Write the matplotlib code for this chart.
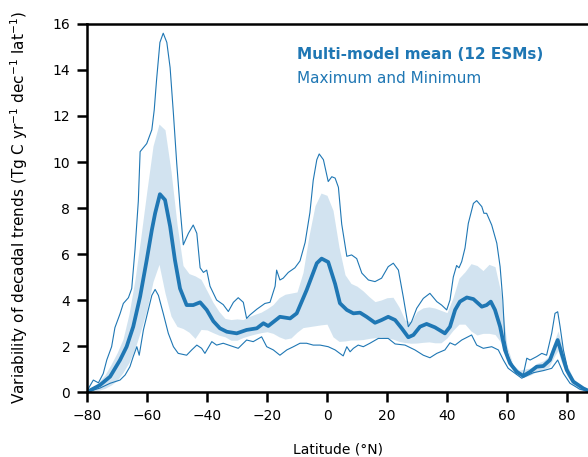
import matplotlib.pyplot as plt

# latitude (deg N) and values
max_lat = [-80, -77.9, -76.2, -74.6, -73.4, -71.8, -70.7, -69, -67.9, -66.2, -65.1, -64, -62.9,
           -62.3, -60.1, -58.4, -57.6, -56.8, -55.7, -54.6, -53.4, -52.3, -51.2, -50.1, -49,
           -47.9, -46.2, -44.6, -43.4, -42.3, -41.2, -40.1, -39, -36.8, -34.6, -32.9, -31.2,
           -29.6, -27.9, -26.8, -25.7, -23.4, -20.7, -19, -17.3, -16.8, -15.7, -14.6, -12.9,
           -10.7, -9, -7.3, -5.7, -4.6, -3.4, -2.6, -1.2, 0.4, 1.6, 2.7, 3.8, 4.9, 6.6, 8.2,
           9.9, 11.6, 13.8, 16, 18.2, 20.4, 22.1, 23.8, 25.4, 27.1, 28.2, 29.9, 32.1, 34.3,
           36.6, 38.2, 39.9, 41, 42.1, 43.2, 44, 44.9, 46, 47.1, 48.8, 49.9, 51.6, 52.3, 53.2,
           54.9, 56.6, 57.7, 58.6, 59.3, 60.4, 62.1, 64.3, 65.4, 66.6, 67.7, 69.9, 71.6, 73.2,
           74.9, 76, 76.9, 77.7, 78.8, 80.4, 82.1, 84.3, 86.6]
max_val = [0.05, 0.52, 0.4, 0.8, 1.4, 1.97, 2.8, 3.4, 3.85, 4.1, 4.5, 6.2, 8.3,
           10.45, 10.8, 11.4, 12.26, 13.6, 15.2, 15.6, 15.2, 14.1, 12.1, 9.95, 8.05,
           6.4, 6.9, 7.26, 6.9, 5.4, 5.2, 5.3, 4.6, 4.0, 3.8, 3.5, 3.9,
           4.1, 3.9, 3.2, 3.35, 3.6, 3.85, 3.9, 4.6, 5.3, 4.87, 4.95, 5.2,
           5.4, 5.7, 6.5, 7.8, 9.2, 10.1, 10.35, 10.1, 9.15, 9.36, 9.3, 8.9, 7.3, 5.9, 5.96,
           5.8, 5.17, 4.87, 4.8, 4.95, 5.45, 5.6, 5.3, 4.15, 2.84, 3.06, 3.64, 4.07, 4.29,
           3.93, 3.78, 3.57, 4.0, 5.0, 5.5, 5.4, 5.67, 6.26, 7.33, 8.2, 8.32, 8.06, 7.77, 7.77,
           7.26, 6.47, 5.45, 4.0, 2.26, 1.54, 1.1, 0.82, 0.74, 1.47, 1.39, 1.54, 1.68, 1.6,
           2.55, 3.42, 3.49, 2.84, 1.83, 0.88, 0.45, 0.23, 0.09]

min_lat = [-80, -75.7, -72.3, -69, -67.3, -65.7, -64.6, -63.4, -62.6, -61.2, -59.6, -58.4,
           -57.3, -56.2, -54.6, -52.9, -51.2, -49.6, -46.8, -45.1, -43.4, -41.8, -40.7, -38.4,
           -36.8, -34.6, -31.2, -29.6, -26.8, -24.6, -21.8, -20.1, -17.9, -15.7, -13.4, -11.2,
           -9, -6.8, -4.6, -2.3, 0.4, 2.7, 5.4, 6.6, 7.7, 8.8, 10.4, 12.1, 14.3, 17.1, 20.4,
           22.7, 26, 29.3, 32.1, 34.3, 36.6, 39.3, 41, 42.7, 44.9, 48.2, 49.9, 52.1, 54.9,
           57.1, 58.8, 60.4, 62.7, 64.9, 66, 68.8, 72.1, 74.9, 76.9, 78.8, 81, 84.3, 86.7]
min_val = [0.0, 0.17, 0.38, 0.52, 0.74, 1.1, 1.54, 1.97, 1.6, 2.7, 3.56, 4.2,
           4.46, 4.2, 3.42, 2.55, 1.97, 1.68, 1.6, 1.83, 2.04, 1.9, 1.68, 2.19,
           2.04, 2.12, 1.97, 1.9, 2.26, 2.19, 2.4, 1.97, 1.83, 1.6, 1.83, 1.97,
           2.12, 2.12, 2.04, 2.04, 1.97, 1.83, 1.57, 1.97, 1.75, 1.9, 2.04, 1.97, 2.12, 2.33, 2.33,
           2.09, 2.04, 1.83, 1.6, 1.49, 1.68, 1.83, 2.14, 2.04, 2.26, 2.48, 2.04, 1.9, 1.97,
           1.83, 1.39, 1.03, 0.81, 0.6, 0.67, 0.84, 0.93, 1.03, 1.39, 0.81, 0.38, 0.12, 0.05]

mean_lat = [-80, -75.7, -72.3, -69, -66.8, -64.6, -62.3, -60.1, -58.4, -57.3, -55.7, -54,
            -52.3, -50.7, -49, -46.8, -44.6, -42.3, -40.1, -37.9, -35.7, -33.4, -30.1, -26.8,
            -23.4, -21.2, -19.6, -15.7, -12.3, -10.1, -6.8, -3.4, -1.8, 0.4, 2.7, 4.3, 6.6,
            8.8, 11, 13.2, 16, 18.2, 20.4, 22.7, 24.9, 27.1, 28.8, 31, 33.2, 36, 39.3, 41,
            42.7, 44.3, 46.6, 48.8, 51.6, 53.2, 54.6, 56, 57.7, 59.3, 61, 63.2, 65.4, 67.7,
            69.9, 72.1, 74.3, 76, 76.9, 78.2, 79.9, 82.1, 85.4, 86.7]
mean_val = [0.0, 0.3, 0.67, 1.39, 1.97, 2.84, 4.15, 5.74, 7.04, 7.77, 8.6, 8.35,
            7.2, 5.74, 4.5, 3.78, 3.78, 3.9, 3.57, 3.08, 2.77, 2.62, 2.55, 2.7,
            2.77, 2.99, 2.87, 3.27, 3.2, 3.42, 4.43, 5.6, 5.8, 5.65, 4.7, 3.86, 3.57,
            3.42, 3.45, 3.27, 3.01, 3.13, 3.27, 3.13, 2.77, 2.38, 2.48, 2.84, 2.96, 2.81, 2.55, 2.84,
            3.57, 3.93, 4.11, 4.04, 3.71, 3.78, 3.93, 3.57, 2.84, 1.83, 1.25, 0.88, 0.7, 0.88,
            1.1, 1.13, 1.39, 1.97, 2.26, 1.68, 0.96, 0.45, 0.16, 0.08]

band_lat = [-80, -78, -76, -74, -72, -70, -68, -66, -64, -62, -60, -58, -56, -54, -52, -50,
            -48, -46, -44, -42, -40, -38, -36, -34, -32, -30, -28, -26, -24, -22, -20, -18,
            -16, -14, -12, -10, -8, -6, -4, -2, 0, 2, 4, 6, 8, 10, 12, 14, 16, 18, 20, 22,
            24, 26, 28, 30, 32, 34, 36, 38, 40, 42, 44, 46, 48, 50, 52, 54, 56, 58, 60, 62,
            64, 66, 68, 70, 72, 74, 76, 77, 78, 80, 82, 84, 86, 87]
band_hi = [0.0, 0.15, 0.45, 0.75, 1.2, 1.7, 2.3, 3.4, 4.9, 6.8, 8.8, 10.7, 11.65, 11.4, 9.6, 7.3,
           5.5, 5.15, 5.05, 4.9, 4.4, 3.9, 3.5, 3.2, 3.15, 3.18, 3.15, 3.28, 3.38, 3.47, 3.62, 3.8,
           4.1, 4.25, 4.3, 4.35, 5.2, 6.8, 8.1, 8.65, 8.55, 7.9, 6.3, 5.1, 4.72, 4.6, 4.4, 4.15,
           3.93, 4.0, 4.1, 4.12, 3.7, 3.13, 3.05, 3.5, 3.66, 3.7, 3.65, 3.55, 3.45, 4.1, 4.95,
           5.23, 5.58, 5.5, 5.28, 5.55, 5.45, 4.3, 2.0, 1.2, 0.95, 1.0, 1.05, 1.25, 1.35, 1.55,
           2.3, 2.65, 2.2, 1.2, 0.6, 0.3, 0.15, 0.1]
band_lo = [0.0, 0.03, 0.08, 0.16, 0.3, 0.5, 0.85, 1.28, 1.9, 2.7, 3.6, 4.8, 5.55, 4.3, 3.3, 2.85,
           2.76, 2.6, 2.33, 2.72, 2.7, 2.58, 2.47, 2.4, 2.25, 2.25, 2.37, 2.45, 2.52, 2.58, 2.62,
           2.55, 2.4, 2.3, 2.35, 2.6, 2.8, 2.84, 2.88, 2.92, 2.95, 2.4, 2.2, 2.22, 2.26, 2.26,
           2.28, 2.33, 2.36, 2.38, 2.35, 2.3, 2.2, 2.15, 2.12, 2.13, 2.16, 2.18, 2.14, 2.14, 2.35,
           2.68, 2.95, 2.95, 2.65, 2.48, 2.55, 2.55, 2.5, 2.15, 1.5, 1.0, 0.7, 0.65, 0.75, 0.9,
           0.95, 1.1, 1.6, 1.8, 1.35, 0.7, 0.3, 0.1, 0.03, 0.02]

blue = "#1f77b4"

fig = plt.figure(figsize=(5.88, 4.57), dpi=100)
ax = fig.add_axes([0.148, 0.1422, 0.852, 0.8053])

ax.fill_between(band_lat, band_lo, band_hi, color=blue, alpha=0.2, linewidth=0)
ax.plot(max_lat, max_val, color=blue, lw=0.8)
ax.plot(min_lat, min_val, color=blue, lw=0.8)
ax.plot(mean_lat, mean_val, color=blue, lw=2.7)

ax.text(0.42, 0.905, "Multi-model mean (12 ESMs)", transform=ax.transAxes,
        color=blue, fontsize=11, fontweight="bold")
ax.text(0.42, 0.84, "Maximum and Minimum", transform=ax.transAxes,
        color=blue, fontsize=11)

ax.set_xlim(-80, 87)
ax.set_ylim(0, 16)
ax.set_xticks(range(-80, 81, 20))
ax.set_yticks(range(0, 17, 2))
ax.set_xlabel("Latitude (°N)", fontsize=10, labelpad=14)
ax.set_ylabel("Variability of decadal trends (Tg C yr$^{-1}$ dec$^{-1}$ lat$^{-1}$)",
              fontsize=11, labelpad=16)

ax.spines["right"].set_visible(False)
for s in ["left", "bottom", "top"]:
    ax.spines[s].set_linewidth(1.8)
ax.tick_params(axis="both", which="major", length=7, width=1.8, pad=5, labelsize=10)

fig.savefig("out.png", dpi=100)
